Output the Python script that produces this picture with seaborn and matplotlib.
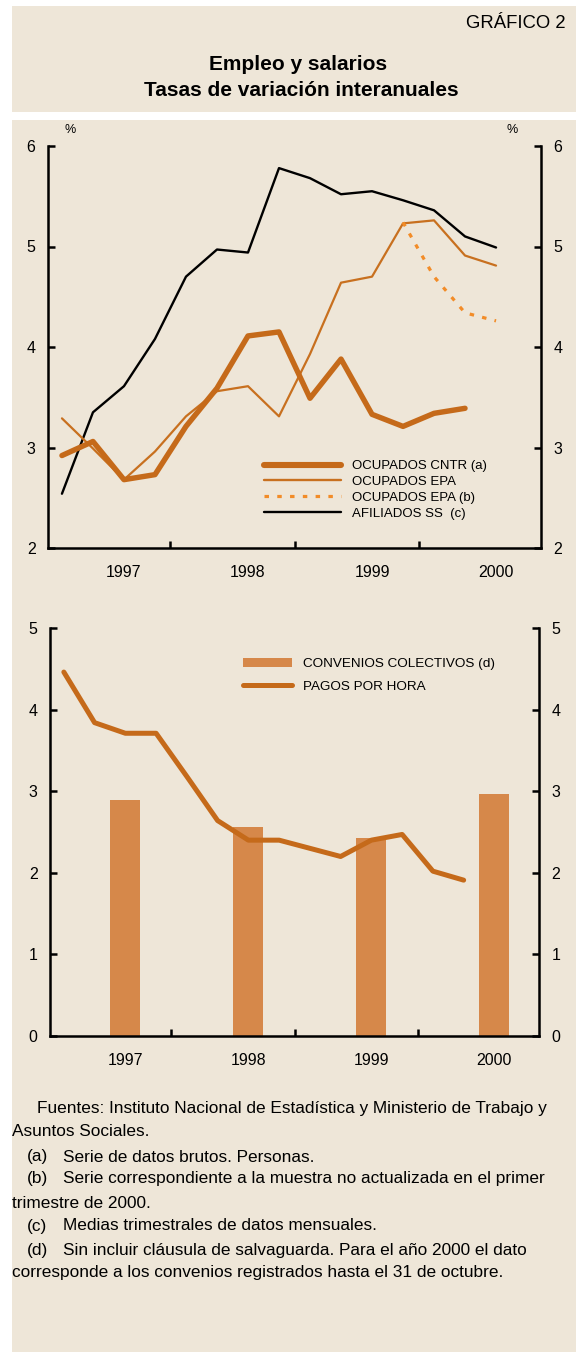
import numpy as np
import pandas as pd
import matplotlib
matplotlib.use("Agg")
import matplotlib.pyplot as plt
from matplotlib.patches import Rectangle, Patch
from matplotlib.lines import Line2D
import seaborn as sns

# ---------------- data ----------------
quarters = list(range(15))  # 1997 Q1 ... 2000 Q3
year_labels = ["1997", "1998", "1999", "2000"]

ocupados_cntr = [2.92, 3.06, 2.68, 2.73, 3.21, 3.59, 4.11, 4.15, 3.49, 3.88, 3.33, 3.21, 3.34, 3.39]
ocupados_epa = [3.29, 2.99, 2.68, 2.96, 3.31, 3.56, 3.61, 3.31, 3.93, 4.64, 4.70, 5.23, 5.26, 4.91, 4.81]
ocupados_epa_b_q = [11, 12, 13, 14]
ocupados_epa_b = [5.24, 4.70, 4.34, 4.26]
afiliados_ss = [2.54, 3.35, 3.61, 4.08, 4.70, 4.97, 4.94, 5.78, 5.68, 5.52, 5.55, 5.46, 5.36, 5.10, 4.99]

pagos_hora = [4.46, 3.84, 3.71, 3.71, 3.18, 2.64, 2.40, 2.40, 2.30, 2.20, 2.40, 2.47, 2.02, 1.91]
convenios_q = [2, 6, 10, 14]
convenios = [2.89, 2.56, 2.43, 2.96]

# ---------------- style ----------------
BG = "#EEE6D8"
C_THICK = "#C56A1A"
C_THIN = "#C8701F"
C_DOT = "#F28C28"
C_BAR = "#D6884A"

sns.set_style("ticks")
plt.rcParams["font.family"] = ["Liberation Sans", "DejaVu Sans"]
plt.rcParams["text.color"] = "black"
plt.rcParams["xtick.color"] = "black"
plt.rcParams["ytick.color"] = "black"
plt.rcParams["axes.labelcolor"] = "black"

W, H = 576, 1352
fig = plt.figure(figsize=(W / 100, H / 100), dpi=100)
fig.patch.set_facecolor("white")

def fx(px):
    return px / W

def fy(py):
    return 1 - py / H

# background boxes
fig.patches.append(Rectangle((fx(12), fy(112)), fx(576) - fx(12), fy(6) - fy(112),
                             transform=fig.transFigure, facecolor=BG, edgecolor="none", zorder=-10))
fig.patches.append(Rectangle((fx(12), fy(1352)), fx(576) - fx(12), fy(120) - fy(1352),
                             transform=fig.transFigure, facecolor=BG, edgecolor="none", zorder=-10))

# titles
fig.text(fx(566), fy(23), "GRÁFICO 2", ha="right", va="center", fontsize=13.3)
fig.text(fx(298), fy(65), "Empleo y salarios", ha="center", va="center", fontsize=15, fontweight="bold")
fig.text(fx(301), fy(91), "Tasas de variación interanuales", ha="center", va="center", fontsize=15, fontweight="bold")

def style_axis(ax, ylim, yticks):
    ax.set_facecolor("none")
    ax.set_xlim(-0.45, 15.45)
    ax.set_ylim(*ylim)
    ax.set_yticks(yticks)
    ax.set_yticklabels([str(t) for t in yticks])
    ax.set_xticks([3.5, 7.5, 11.5])
    ax.set_xticklabels([])
    ax.set_xticks([2, 6, 10, 14], minor=True)
    ax.set_xticklabels(year_labels, minor=True)
    ax.tick_params(axis="x", which="major", direction="in", length=5, width=1.8)
    ax.tick_params(axis="x", which="minor", length=0, pad=12, labelsize=11.5)
    ax.tick_params(axis="y", which="major", direction="in", length=5, width=1.8,
                   left=True, right=True, labelleft=True, labelright=True, pad=9, labelsize=11.5)
    for s in ["left", "right", "bottom"]:
        ax.spines[s].set_visible(True)
        ax.spines[s].set_linewidth(1.8)
        ax.spines[s].set_color("black")
    ax.spines["top"].set_visible(False)
    ax.set_xlabel("")
    ax.set_ylabel("")

# ---------------- top chart ----------------
ax1 = fig.add_axes([fx(48), fy(548), fx(541) - fx(48), fy(146) - fy(548)])

sns.lineplot(x=quarters[:len(afiliados_ss)], y=afiliados_ss, ax=ax1, color="black", linewidth=1.7)
sns.lineplot(x=quarters[:len(ocupados_epa)], y=ocupados_epa, ax=ax1, color=C_THIN, linewidth=1.6)
sns.lineplot(x=ocupados_epa_b_q, y=ocupados_epa_b, ax=ax1, color=C_DOT, linewidth=2.3)
ax1.get_lines()[-1].set_linestyle((0, (1.4, 2.6)))
sns.lineplot(x=quarters[:len(ocupados_cntr)], y=ocupados_cntr, ax=ax1, color=C_THICK, linewidth=3.9)
style_axis(ax1, (2, 6), [2, 3, 4, 5, 6])

handles1 = [
    Line2D([], [], color=C_THICK, lw=4.4),
    Line2D([], [], color=C_THIN, lw=1.7),
    Line2D([], [], color=C_DOT, lw=2.3, linestyle=(0, (1.4, 2.6))),
    Line2D([], [], color="black", lw=1.7),
]
labels1 = ["OCUPADOS CNTR (a)", "OCUPADOS EPA", "OCUPADOS EPA (b)", "AFILIADOS SS  (c)"]
ax1.legend(handles1, labels1, loc="upper left", bbox_to_anchor=(fx(264), fy(460)),
           bbox_transform=fig.transFigure, frameon=False, fontsize=9.5, handlelength=5.8,
           handletextpad=0.85, labelspacing=0.27, borderpad=0, borderaxespad=0)

fig.text(fx(70), fy(130), "%", ha="center", va="center", fontsize=9)
fig.text(fx(512), fy(130), "%", ha="center", va="center", fontsize=9)

# ---------------- bottom chart ----------------
ax2 = fig.add_axes([fx(50), fy(1036), fx(539) - fx(50), fy(628) - fy(1036)])
ax2.bar(convenios_q, convenios, width=0.98, color=C_BAR, edgecolor="none", linewidth=0, zorder=1)
sns.lineplot(x=quarters[:len(pagos_hora)], y=pagos_hora, ax=ax2, color=C_THICK, linewidth=3.6, zorder=2)
style_axis(ax2, (0, 5), [0, 1, 2, 3, 4, 5])

handles2 = [Patch(facecolor=C_BAR, edgecolor="none"), Line2D([], [], color=C_THICK, lw=3.6)]
labels2 = ["CONVENIOS COLECTIVOS (d)", "PAGOS POR HORA"]
ax2.legend(handles2, labels2, loc="upper left", bbox_to_anchor=(fx(243), fy(658)),
           bbox_transform=fig.transFigure, frameon=False, fontsize=9.7, handlelength=3.6,
           handleheight=0.7, handletextpad=0.85, labelspacing=0.75, borderpad=0, borderaxespad=0)

# ---------------- footnotes ----------------
fs = 12.4
notes = [
    (37, 1108, "Fuentes: Instituto Nacional de Estadística y Ministerio de Trabajo y"),
    (12, 1132, "Asuntos Sociales."),
    (63, 1157, "Serie de datos brutos. Personas."),
    (63, 1179, "Serie correspondiente a la muestra no actualizada en el primer"),
    (12, 1203, "trimestre de 2000."),
    (63, 1226, "Medias trimestrales de datos mensuales."),
    (63, 1250, "Sin incluir cláusula de salvaguarda. Para el año 2000 el dato"),
    (12, 1273, "corresponde a los convenios registrados hasta el 31 de octubre."),
]
for x, y, t in notes:
    fig.text(fx(x), fy(y), t, ha="left", va="center", fontsize=fs)
for lab, y in [("(a)", 1157), ("(b)", 1179), ("(c)", 1226), ("(d)", 1250)]:
    fig.text(fx(27), fy(y), lab, ha="left", va="center", fontsize=fs)

fig.savefig("out.png", dpi=100, facecolor="white")
